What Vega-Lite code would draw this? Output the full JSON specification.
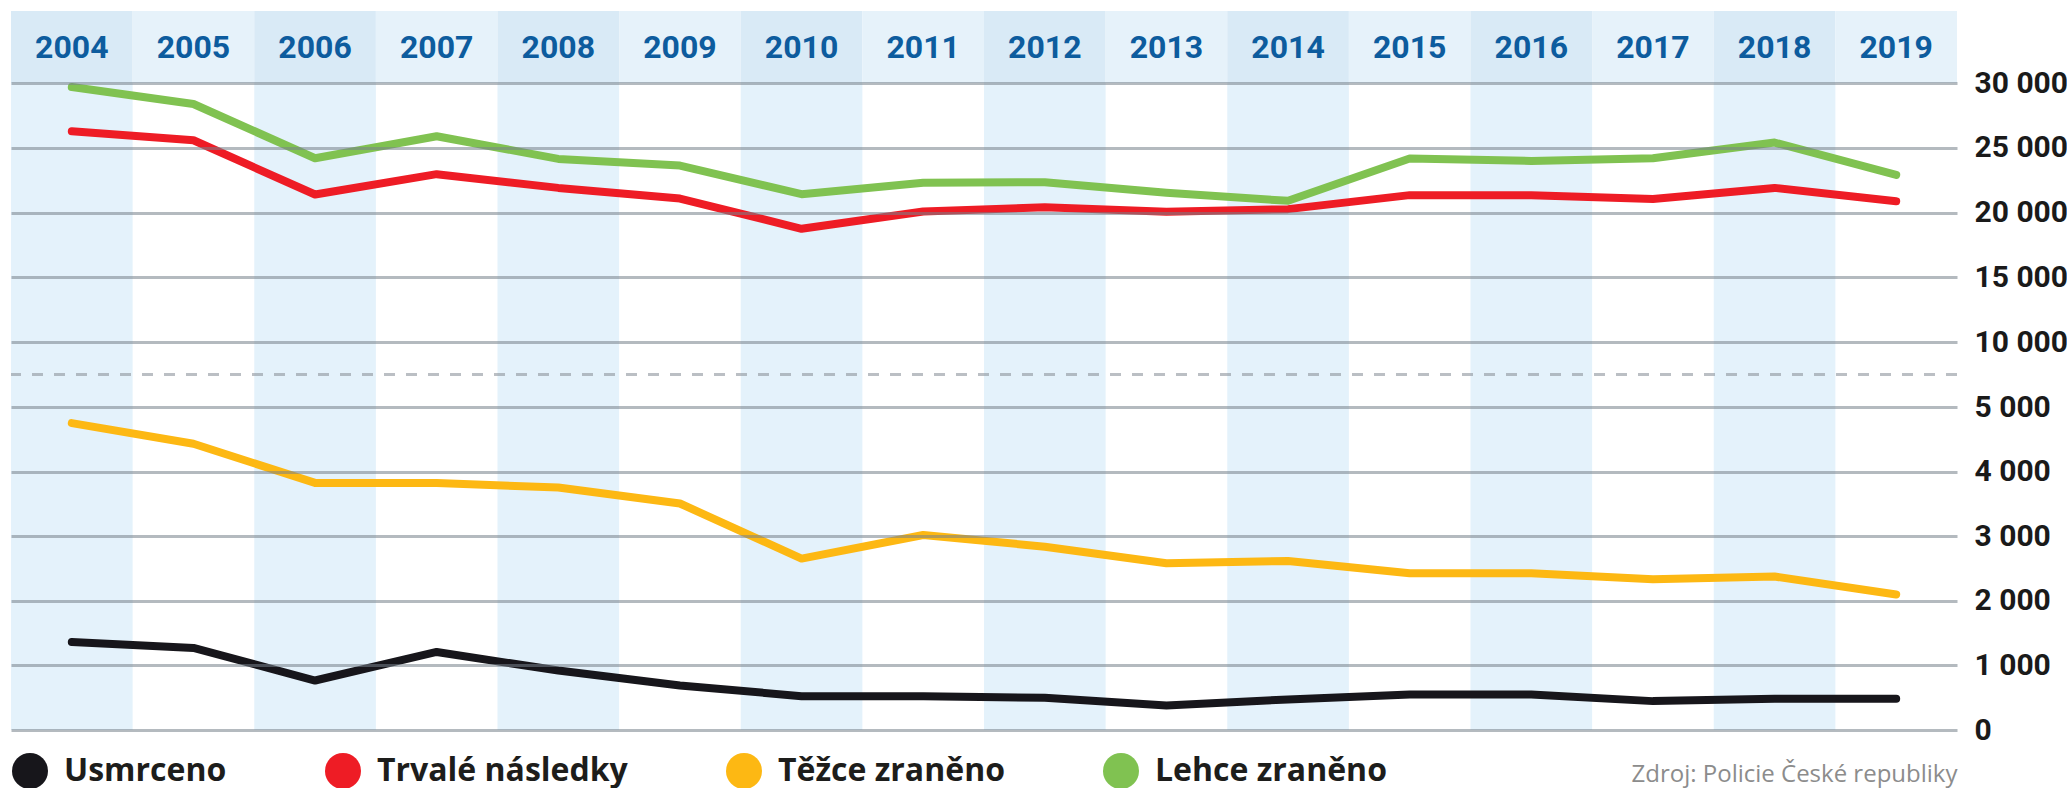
{
  "$schema": "https://vega.github.io/schema/vega-lite/v6.json",
  "padding": {"left": 9, "top": 11, "right": 0, "bottom": 0},
  "background": "white",
  "bounds": "flush",
  "spacing": 0,
  "config": {
    "view": {"stroke": null},
    "locale": {"number": {"decimal": ",", "thousands": " ", "grouping": [3], "currency": ["", " Kč"]}}
  },
  "datasets": {
    "nehody": [
      {"rok": 2004, "kategorie": "Usmrceno", "pocet": 1362},
      {"rok": 2005, "kategorie": "Usmrceno", "pocet": 1270},
      {"rok": 2006, "kategorie": "Usmrceno", "pocet": 766},
      {"rok": 2007, "kategorie": "Usmrceno", "pocet": 1208},
      {"rok": 2008, "kategorie": "Usmrceno", "pocet": 920},
      {"rok": 2009, "kategorie": "Usmrceno", "pocet": 689},
      {"rok": 2010, "kategorie": "Usmrceno", "pocet": 524},
      {"rok": 2011, "kategorie": "Usmrceno", "pocet": 524},
      {"rok": 2012, "kategorie": "Usmrceno", "pocet": 499},
      {"rok": 2013, "kategorie": "Usmrceno", "pocet": 380},
      {"rok": 2014, "kategorie": "Usmrceno", "pocet": 473},
      {"rok": 2015, "kategorie": "Usmrceno", "pocet": 550},
      {"rok": 2016, "kategorie": "Usmrceno", "pocet": 550},
      {"rok": 2017, "kategorie": "Usmrceno", "pocet": 447},
      {"rok": 2018, "kategorie": "Usmrceno", "pocet": 483},
      {"rok": 2019, "kategorie": "Usmrceno", "pocet": 483},
      {"rok": 2004, "kategorie": "Trvalé následky", "pocet": 26270},
      {"rok": 2005, "kategorie": "Trvalé následky", "pocet": 25580},
      {"rok": 2006, "kategorie": "Trvalé následky", "pocet": 21390},
      {"rok": 2007, "kategorie": "Trvalé následky", "pocet": 22960},
      {"rok": 2008, "kategorie": "Trvalé následky", "pocet": 21900},
      {"rok": 2009, "kategorie": "Trvalé následky", "pocet": 21080},
      {"rok": 2010, "kategorie": "Trvalé následky", "pocet": 18740},
      {"rok": 2011, "kategorie": "Trvalé následky", "pocet": 20080},
      {"rok": 2012, "kategorie": "Trvalé následky", "pocet": 20410},
      {"rok": 2013, "kategorie": "Trvalé následky", "pocet": 20050},
      {"rok": 2014, "kategorie": "Trvalé následky", "pocet": 20260},
      {"rok": 2015, "kategorie": "Trvalé následky", "pocet": 21340},
      {"rok": 2016, "kategorie": "Trvalé následky", "pocet": 21340},
      {"rok": 2017, "kategorie": "Trvalé následky", "pocet": 21050},
      {"rok": 2018, "kategorie": "Trvalé následky", "pocet": 21900},
      {"rok": 2019, "kategorie": "Trvalé následky", "pocet": 20870},
      {"rok": 2004, "kategorie": "Těžce zraněno", "pocet": 4751},
      {"rok": 2005, "kategorie": "Těžce zraněno", "pocet": 4432},
      {"rok": 2006, "kategorie": "Těžce zraněno", "pocet": 3825},
      {"rok": 2007, "kategorie": "Těžce zraněno", "pocet": 3825},
      {"rok": 2008, "kategorie": "Těžce zraněno", "pocet": 3753},
      {"rok": 2009, "kategorie": "Těžce zraněno", "pocet": 3506},
      {"rok": 2010, "kategorie": "Těžce zraněno", "pocet": 2653},
      {"rok": 2011, "kategorie": "Těžce zraněno", "pocet": 3018},
      {"rok": 2012, "kategorie": "Těžce zraněno", "pocet": 2838},
      {"rok": 2013, "kategorie": "Těžce zraněno", "pocet": 2581},
      {"rok": 2014, "kategorie": "Těžce zraněno", "pocet": 2617},
      {"rok": 2015, "kategorie": "Těžce zraněno", "pocet": 2427},
      {"rok": 2016, "kategorie": "Těžce zraněno", "pocet": 2427},
      {"rok": 2017, "kategorie": "Těžce zraněno", "pocet": 2334},
      {"rok": 2018, "kategorie": "Těžce zraněno", "pocet": 2375},
      {"rok": 2019, "kategorie": "Těžce zraněno", "pocet": 2098},
      {"rok": 2004, "kategorie": "Lehce zraněno", "pocet": 29690},
      {"rok": 2005, "kategorie": "Lehce zraněno", "pocet": 28380},
      {"rok": 2006, "kategorie": "Lehce zraněno", "pocet": 24190},
      {"rok": 2007, "kategorie": "Lehce zraněno", "pocet": 25890},
      {"rok": 2008, "kategorie": "Lehce zraněno", "pocet": 24140},
      {"rok": 2009, "kategorie": "Lehce zraněno", "pocet": 23625},
      {"rok": 2010, "kategorie": "Lehce zraněno", "pocet": 21414},
      {"rok": 2011, "kategorie": "Lehce zraněno", "pocet": 22290},
      {"rok": 2012, "kategorie": "Lehce zraněno", "pocet": 22340},
      {"rok": 2013, "kategorie": "Lehce zraněno", "pocet": 21517},
      {"rok": 2014, "kategorie": "Lehce zraněno", "pocet": 20900},
      {"rok": 2015, "kategorie": "Lehce zraněno", "pocet": 24165},
      {"rok": 2016, "kategorie": "Lehce zraněno", "pocet": 23985},
      {"rok": 2017, "kategorie": "Lehce zraněno", "pocet": 24190},
      {"rok": 2018, "kategorie": "Lehce zraněno", "pocet": 25400},
      {"rok": 2019, "kategorie": "Lehce zraněno", "pocet": 22905}
    ]
  },
  "vconcat": [
    {
      "width": 1946,
      "height": 72,
      "data": {"name": "nehody"},
      "transform": [{"filter": "datum.kategorie == 'Usmrceno'"}],
      "layer": [
        {
          "mark": {"type": "rect"},
          "encoding": {
            "x": {"field": "rok", "type": "ordinal", "scale": {"paddingInner": 0, "paddingOuter": 0}, "axis": null},
            "fill": {"condition": {"test": "datum.rok % 2 == 0", "value": "#d9eaf6"}, "value": "#e6f2fa"}
          }
        },
        {
          "mark": {"type": "text", "font": "Roboto", "fontWeight": "bold", "fontSize": 32, "color": "#0d5c9e", "baseline": "middle", "align": "center", "dy": 1},
          "encoding": {
            "x": {"field": "rok", "type": "ordinal", "scale": {"paddingInner": 0, "paddingOuter": 0}, "axis": null},
            "text": {"field": "rok", "type": "nominal"}
          }
        }
      ]
    },
    {
      "width": 1946,
      "height": 647,
      "layer": [
        {
          "data": {"name": "nehody"},
          "transform": [{"filter": "datum.kategorie == 'Usmrceno' && datum.rok % 2 == 0"}],
          "mark": {"type": "rect", "color": "#e4f2fb"},
          "encoding": {
            "x": {
              "field": "rok", "type": "ordinal",
              "scale": {"paddingInner": 0, "paddingOuter": 0},
              "axis": {"orient": "bottom", "labels": false, "ticks": false, "domain": false, "grid": false,
                "title": "Zdroj: Policie České republiky", "titleAnchor": "end", "titleFont": "Open Sans",
                "titleFontSize": 24, "titleFontWeight": "normal", "titleColor": "#8c8c8c",
                "titleBaseline": "alphabetic", "titlePadding": 51}
            }
          }
        },
        {
          "data": {"values": [{"hranice": 7500}]},
          "mark": {"type": "rule", "color": "#8d959d", "opacity": 0.6, "strokeWidth": 3, "strokeDash": [11, 11]},
          "encoding": {"y": {"field": "hranice", "type": "quantitative"}}
        },
        {
          "data": {"name": "nehody"},
          "mark": {"type": "line", "strokeWidth": 8, "strokeCap": "round", "strokeJoin": "round"},
          "encoding": {
            "x": {
              "field": "rok", "type": "ordinal",
              "scale": {"paddingInner": 0, "paddingOuter": 0},
              "axis": {"orient": "bottom", "labels": false, "ticks": false, "domain": false, "grid": false,
                "title": "Zdroj: Policie České republiky", "titleAnchor": "end", "titleFont": "Open Sans",
                "titleFontSize": 24, "titleFontWeight": "normal", "titleColor": "#8c8c8c",
                "titleBaseline": "alphabetic", "titlePadding": 51}
            },
            "y": {
              "field": "pocet", "type": "quantitative",
              "scale": {"domain": [0, 5000, 10000, 30000], "range": [647, 324, 259, 0], "nice": false, "zero": false, "clamp": false},
              "axis": {"orient": "right", "values": [0, 1000, 2000, 3000, 4000, 5000, 10000, 15000, 20000, 25000, 30000],
                "format": ",.0f", "grid": true, "gridColor": "#76818b", "gridOpacity": 0.55, "gridWidth": 3,
                "domain": false, "ticks": false, "tickSize": 0, "labelPadding": 17,
                "labelFont": "Roboto", "labelFontSize": 30,
                "labelFontWeight": "bold", "labelColor": "#1a1a1a", "labelAlign": "left", "labelBaseline": "middle",
                "title": null, "zindex": 1}
            },
            "color": {
              "field": "kategorie", "type": "nominal",
              "scale": {"domain": ["Usmrceno", "Trvalé následky", "Těžce zraněno", "Lehce zraněno"],
                "range": ["#17161b", "#ee1c25", "#fdb813", "#80c251"]},
              "legend": {"orient": "none", "legendX": 1, "legendY": 742, "direction": "horizontal", "title": null,
                "symbolType": "circle", "symbolSize": 1296, "symbolStrokeWidth": 0, "symbolOpacity": 1,
                "labelFont": "Open Sans", "labelFontWeight": "bold", "labelFontSize": 32, "labelColor": "#1d1d1b",
                "labelLimit": 500, "labelOffset": 16, "columnPadding": 98, "padding": 0,
                "encode": {"symbols": {"update": {
                  "fill": {"signal": "datum.value === 'Usmrceno' ? '#17161b' : datum.value === 'Trvalé následky' ? '#ee1c25' : datum.value === 'Těžce zraněno' ? '#fdb813' : '#80c251'"},
                  "strokeWidth": {"value": 0},
                  "opacity": {"value": 1}}}}}
            }
          }
        }
      ]
    }
  ]
}
